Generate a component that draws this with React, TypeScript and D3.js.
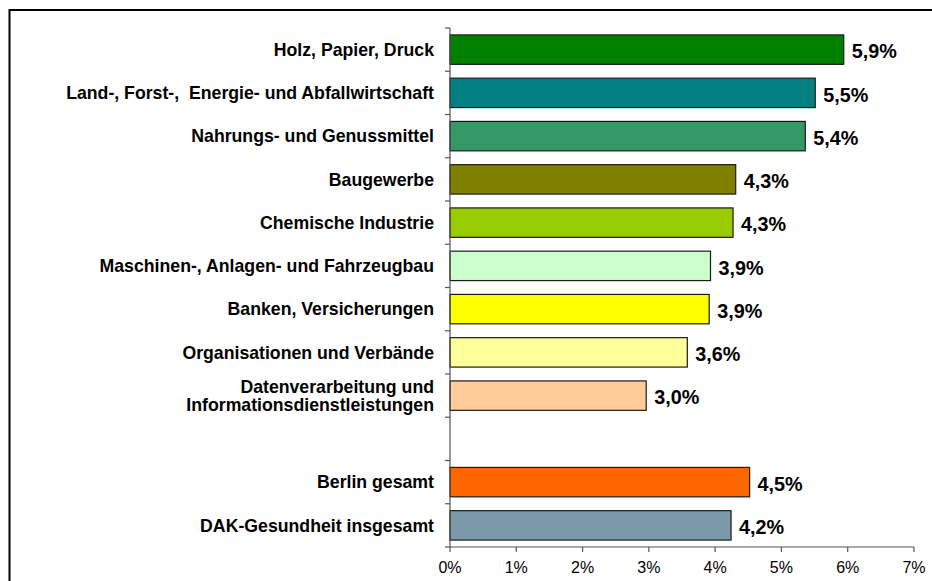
import React from 'react';
import * as d3 from 'd3';

// Branchen (top to bottom); empty string = gap row
const categories = [
  'Holz, Papier, Druck',
  'Land-, Forst-,  Energie- und Abfallwirtschaft',
  'Nahrungs- und Genussmittel',
  'Baugewerbe',
  'Chemische Industrie',
  'Maschinen-, Anlagen- und Fahrzeugbau',
  'Banken, Versicherungen',
  'Organisationen und Verbände',
  'Datenverarbeitung und\nInformationsdienstleistungen',
  '',
  'Berlin gesamt',
  'DAK-Gesundheit insgesamt',
];

const values = [5.94, 5.51, 5.36, 4.31, 4.27, 3.93, 3.91, 3.58, 2.96, null, 4.52, 4.24];

const colors = [
  '#008000', '#008080', '#339966', '#808000', '#99cc00', '#ccffcc',
  '#ffff00', '#ffff99', '#ffcc99', 'none', '#ff6600', '#7b99a9',
];

const xTicks = [0, 1, 2, 3, 4, 5, 6, 7];

const W = 932;
const H = 581;
const left = 450;
const right = 914;
const top = 28;
const bottom = 547;

export default function App() {
  const x = d3.scaleLinear().domain([0, 7]).range([left, right]);
  const y = d3
    .scaleBand()
    .domain(categories.map((c, i) => String(i)))
    .range([top, bottom])
    .paddingInner(0.32)
    .paddingOuter(0.16);

  const step = y.step();
  const fmt = (v) => v.toFixed(1).replace('.', ',') + '%';

  return (
    <svg
      width={W}
      height={H}
      style={{ position: 'absolute', left: 0, top: 0, fontFamily: 'Arial, "Liberation Sans", sans-serif' }}
    >
      <rect x={0} y={0} width={W} height={H} fill="#fff" />
      {/* outer frame, runs past the right and bottom edge */}
      <rect x={9.5} y={10} width={W + 20} height={H + 20} fill="none" stroke="#000" strokeWidth={2} />

      {/* bars */}
      {values.map((v, i) =>
        v == null ? null : (
          <g key={i}>
            <rect
              x={x(0)}
              y={y(String(i))}
              width={x(v) - x(0)}
              height={y.bandwidth()}
              fill={colors[i]}
              stroke="#1a1a1a"
              strokeWidth={1.2}
            />
            <text
              x={x(v) + 8}
              y={y(String(i)) + y.bandwidth() / 2 + 1.5}
              dy="0.36em"
              fontSize={19.8}
              fontWeight="bold"
              fill="#000"
            >
              {fmt(v)}
            </text>
          </g>
        )
      )}

      {/* category labels */}
      {categories.map((c, i) => {
        const lines = c.split('\n');
        const cy = y(String(i)) + y.bandwidth() / 2;
        return (
          <text
            key={i}
            x={left - 16}
            y={cy}
            textAnchor="end"
            fontSize={17.7}
            fontWeight="bold"
            fill="#000"
            style={{ whiteSpace: 'pre' }}
          >
            {lines.map((l, j) => (
              <tspan key={j} x={left - 16} y={cy + (j - (lines.length - 1) / 2) * 18.5} dy="0.36em">
                {l}
              </tspan>
            ))}
          </text>
        );
      })}

      {/* y axis with ticks between categories */}
      <line x1={left} x2={left} y1={top} y2={bottom} stroke="#555" strokeWidth={1.2} />
      {d3.range(categories.length + 1).map((i) => {
        const ty = top + i * step;
        return <line key={i} x1={left - 5} x2={left} y1={ty} y2={ty} stroke="#555" strokeWidth={1.2} />;
      })}

      {/* x axis */}
      <line x1={left} x2={right} y1={bottom} y2={bottom} stroke="#555" strokeWidth={1.2} />
      {xTicks.map((t) => (
        <g key={t}>
          <line x1={x(t)} x2={x(t)} y1={bottom} y2={bottom + 5} stroke="#555" strokeWidth={1.2} />
          <text x={x(t)} y={bottom + 20} dy="0.36em" textAnchor="middle" fontSize={16} fill="#000">
            {t + '%'}
          </text>
        </g>
      ))}
    </svg>
  );
}
